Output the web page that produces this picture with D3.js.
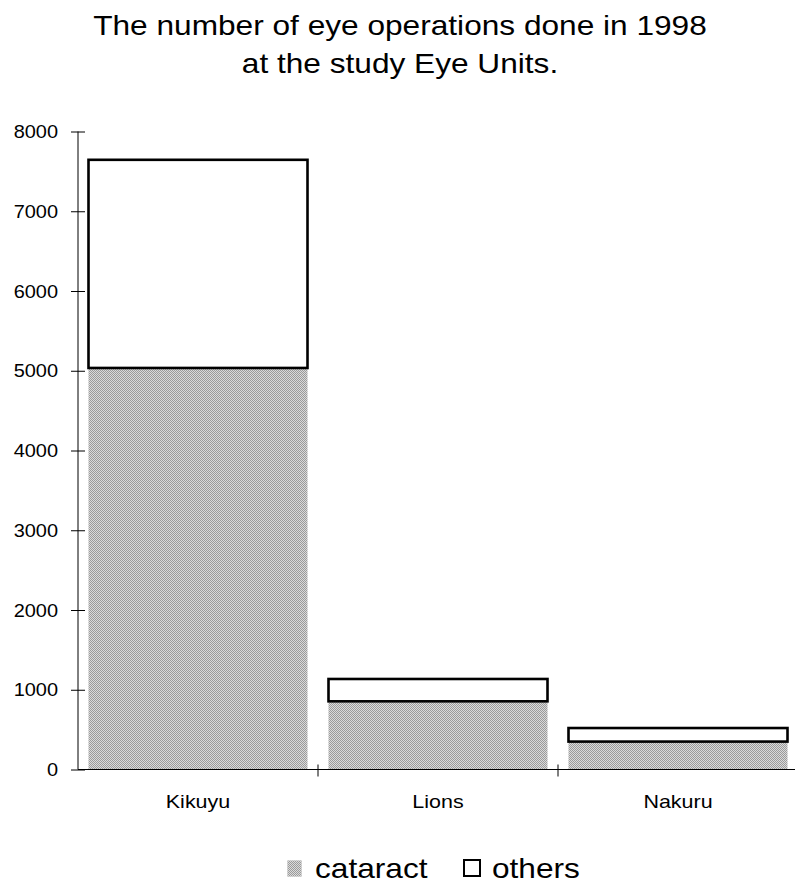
<!DOCTYPE html>
<html><head><meta charset="utf-8">
<script src="https://cdn.jsdelivr.net/npm/d3@7"></script>
<style>body{margin:0;background:#fff}svg{display:block}text{font-family:"Liberation Sans",Arial,sans-serif}</style>
</head><body>
<svg id="c" width="795" height="887"></svg>
<script>
const categories = ["Kikuyu", "Lions", "Nakuru"];
const cataract = [5035, 855, 350];
const others = [2610, 280, 170];
const yTicks = [0, 1000, 2000, 3000, 4000, 5000, 6000, 7000, 8000];
const titleLines = ["The number of eye operations done in 1998", "at the study Eye Units."];
const seriesNames = ["cataract", "others"];

const SX = 1.13; // horizontal stretch of glyphs in the reference
const svg = d3.select("#c");
const defs = svg.append("defs");
const pat = defs.append("pattern").attr("id","dots").attr("width",2).attr("height",2).attr("patternUnits","userSpaceOnUse");
pat.append("rect").attr("width",2).attr("height",2).attr("fill","#dadada");
pat.append("rect").attr("width",1).attr("height",1).attr("fill","#9a9a9a");
pat.append("rect").attr("x",1).attr("y",1).attr("width",1).attr("height",1).attr("fill","#9a9a9a");

const x0 = 78, x1 = 798, yTop = 131.5, yBot = 769.5;
const x = d3.scaleBand().domain(categories).range([x0, x1]).paddingInner(0.0875).paddingOuter(0.04375);
const y = d3.scaleLinear().domain([0, 8000]).range([yBot, yTop]);

function stretched(sel, xx, yy){ return sel.attr("transform", `translate(${xx},${yy}) scale(${SX},1)`); }

// title
titleLines.forEach((t,i)=>{
  stretched(svg.append("text"), 400, 35 + i*38).attr("text-anchor","middle")
    .attr("font-size", 28).attr("fill","#000").text(t);
});

// bars
const g = svg.append("g");
g.selectAll("rect.cat").data(categories).join("rect").attr("class","cat")
  .attr("x", d=>x(d)).attr("width", x.bandwidth())
  .attr("y", (d,i)=>y(cataract[i])).attr("height", (d,i)=>y(0)-y(cataract[i]))
  .attr("fill","url(#dots)");
g.selectAll("rect.oth").data(categories).join("rect").attr("class","oth")
  .attr("x", d=>x(d)).attr("width", x.bandwidth())
  .attr("y", (d,i)=>y(cataract[i]+others[i])).attr("height", (d,i)=>y(cataract[i])-y(cataract[i]+others[i]))
  .attr("fill","#fff").attr("stroke","#000").attr("stroke-width",2.6);

// y axis
const ya = svg.append("g").attr("transform",`translate(${x0},0)`)
  .call(d3.axisLeft(y).tickValues(yTicks).tickSize(0).tickFormat(d3.format("d")));
ya.select(".domain").attr("stroke","#000").attr("d",`M0,${yTop}V${yBot}`);
ya.selectAll(".tick text").attr("font-size",17.5).attr("fill","#000")
  .attr("font-family",'"Liberation Sans",Arial,sans-serif')
  .attr("x", -20/1.14).attr("dy","0.35em").attr("transform","scale(1.14,1)");
ya.selectAll(".tick").append("line").attr("x1",-7).attr("x2",7).attr("stroke","#000");

// x axis
const xa = svg.append("g").attr("transform",`translate(0,${yBot})`);
xa.append("line").attr("x1",x0).attr("x2",x1).attr("stroke","#000");
const step = x.step();
const bounds = categories.slice(1).map(c => x(c) - step*x.paddingInner()/2);
xa.selectAll("line.b").data(bounds).join("line").attr("class","b")
  .attr("x1",d=>d).attr("x2",d=>d).attr("y1",-5).attr("y2",7).attr("stroke","#000");
categories.forEach(c=>{
  stretched(xa.append("text"), x(c)+x.bandwidth()/2, 38).attr("text-anchor","middle")
    .attr("font-size",19).attr("fill","#000").text(c);
});

// legend
const lg = svg.append("g");
lg.append("rect").attr("x",287.5).attr("y",860.5).attr("width",14).attr("height",16).attr("fill","url(#dots)")
  .attr("stroke","#bbb").attr("stroke-width",0.6).attr("stroke-dasharray","1,1");
stretched(lg.append("text"), 315, 878).attr("font-size",28).attr("fill","#000").text(seriesNames[0]);
lg.append("rect").attr("x",464).attr("y",860).attr("width",16).attr("height",16).attr("fill","#fff").attr("stroke","#000").attr("stroke-width",2);
stretched(lg.append("text"), 492, 878).attr("font-size",28).attr("fill","#000").text(seriesNames[1]);
</script>
</body></html>
